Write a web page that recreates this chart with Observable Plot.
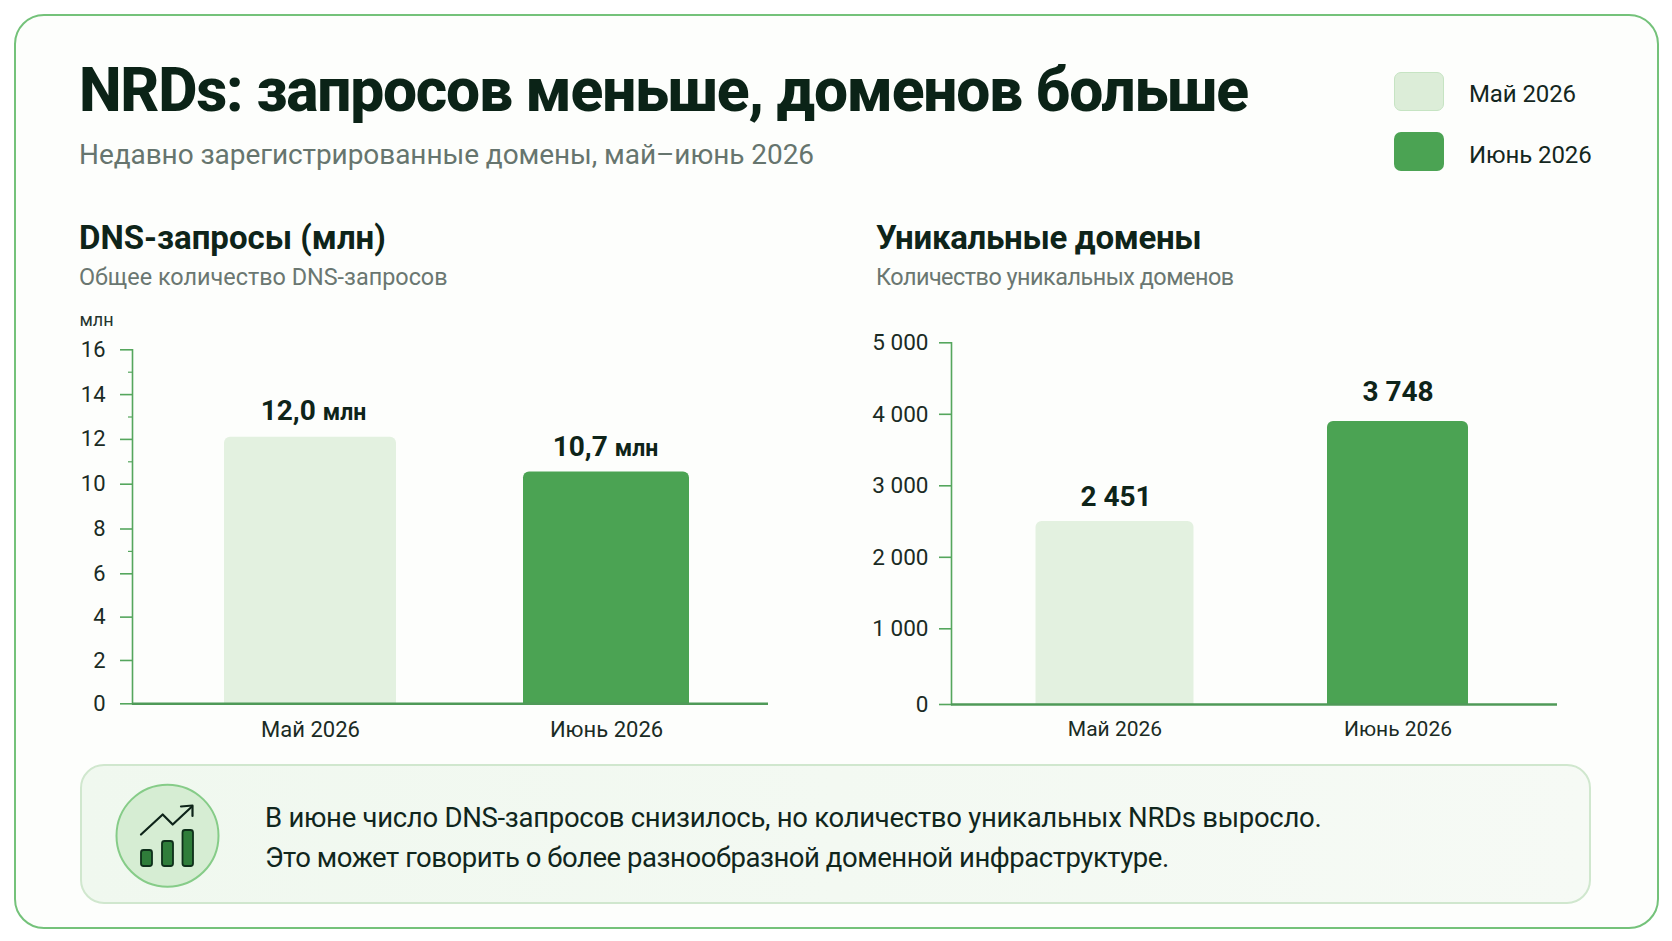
<!DOCTYPE html>
<html lang="ru">
<head>
<meta charset="utf-8">
<script src="https://cdn.jsdelivr.net/npm/d3@7"></script>
<script src="https://cdn.jsdelivr.net/npm/@observablehq/plot@0.6"></script>
<style>
  html, body { margin: 0; padding: 0; background: #fff; }
  body { width: 1672px; height: 941px; position: relative; overflow: hidden; font-family: Roboto, sans-serif; color: #0e2419; }
  .abs { position: absolute; white-space: nowrap; line-height: 1; }
  #card { position: absolute; left: 14px; top: 14px; width: 1645px; height: 915px; box-sizing: border-box; border: 2px solid #74c27a; border-radius: 30px; background: #fdfefc; }
  #title { left: 79px; top: 61px; font-size: 60.5px; font-weight: 800; letter-spacing: -1.23px; color: #0b2317; }
  #subtitle { left: 79px; top: 141px; font-size: 28px; letter-spacing: -0.07px; color: #66756e; }
  .h2 { top: 220.5px; font-size: 33px; font-weight: 700; color: #0e2419; }
  .h3 { top: 266px; font-size: 23.4px; color: #6a7771; }
  #unit { left: 79.5px; top: 311px; font-size: 18px; color: #26352e; }
  .swatch { position: absolute; left: 1394px; width: 50px; height: 39px; box-sizing: border-box; border-radius: 7px; }
  .leg { left: 1469px; font-size: 24px; letter-spacing: -0.1px; color: #14271e; }
  #callout { position: absolute; left: 80px; top: 764px; width: 1511px; height: 140px; box-sizing: border-box; border: 2px solid #d0e7ce; border-radius: 24px; background: linear-gradient(90deg,#f0f8ef,#f6faf5); }
  .note { left: 265px; font-size: 27.5px; color: #10261c; }
  #icon { position: absolute; left: 110px; top: 778px; }
  .plot { position: absolute; }
  .plot svg { display: block; overflow: visible; }
</style>
</head>
<body>
<div id="card"></div>
<div class="abs" id="title">NRDs: запросов меньше, доменов больше</div>
<div class="abs" id="subtitle">Недавно зарегистрированные домены, май–июнь 2026</div>

<div class="swatch" style="top:72px;background:#dcedd8;border:1.5px solid #c6e4c3"></div>
<div class="abs leg" style="top:82px">Май 2026</div>
<div class="swatch" style="top:132px;background:#4ba353"></div>
<div class="abs leg" style="top:143px">Июнь 2026</div>

<div class="abs h2" style="left:79px">DNS-запросы (млн)</div>
<div class="abs h3" style="left:79px">Общее количество DNS-запросов</div>
<div class="abs" id="unit">млн</div>
<div class="abs h2" style="left:876px;letter-spacing:-0.3px">Уникальные домены</div>
<div class="abs h3" style="left:876px;letter-spacing:-0.5px">Количество уникальных доменов</div>

<div class="plot" id="left" style="left:60px;top:335px"></div>
<div class="plot" id="right" style="left:880px;top:330px"></div>

<div id="callout"></div>
<svg id="icon" width="116" height="116" viewBox="110 778 116 116">
  <circle cx="167.5" cy="835.7" r="51" fill="#d6edd3" stroke="#86cc88" stroke-width="2"/>
  <g fill="#2f7d3a" stroke="#0e2f1a" stroke-width="1.8">
    <rect x="141" y="850" width="11" height="16" rx="2.5"/>
    <rect x="162" y="841" width="11" height="25" rx="2.5"/>
    <rect x="182.5" y="830" width="10.5" height="36" rx="2.5"/>
  </g>
  <g fill="none" stroke="#0e2419" stroke-width="2.2" stroke-linecap="round" stroke-linejoin="round">
    <path d="M141 834.5 L162.7 814.5 L172.7 824.5 L192 806.5"/>
    <path d="M181 806.5 L192.5 805.5 L192.5 816"/>
  </g>
</svg>
<div class="abs note" style="top:804px;letter-spacing:-0.29px">В июне число DNS-запросов снизилось, но количество уникальных NRDs выросло.</div>
<div class="abs note" style="top:844px;letter-spacing:-0.46px">Это может говорить о более разнообразной доменной инфраструктуре.</div>

<script>
// Categories
const months = ["Май 2026", "Июнь 2026"];
const monthColors = ["#e3f1e0", "#4ba353"];

const dnsBars = [12.1, 10.55];
const dnsLabels = ["12,0 млн", "10,7 млн"];
const dnsTicks = [0, 2, 4, 6, 8, 10, 12, 14, 16];
const dnsMinorTicks = [7, 11, 13, 15];

const domainBars = [2500, 3900];
const domainLabels = ["2 451", "3 748"];
const domainTicks = [0, 1000, 2000, 3000, 4000, 5000];

const axisGreen = "#55a65d";
const inkText = "#1a2b24";
const spaced = d3.formatLocale({decimal: ",", thousands: " ", grouping: [3], currency: ["", ""]}).format(",");

function panel({bars, labels, ticks, minor, domainY, rangeY, width, height, margin, xRange, insets, labelDx, labelDy, tickFormat, tickPadding, tickFont, xFont, xPadding}) {
  const rows = months.map((m, i) => ({month: m, value: bars[i], label: labels[i], color: monthColors[i]}));
  const marks = [];
  rows.forEach((r, i) => {
    marks.push(Plot.barY([r], {x: "month", y: "value", fill: "color", insetLeft: insets[i], insetRight: insets[i], ry1: 6}));
    marks.push(Plot.text([r], {x: "month", y: "value", text: "label", dx: labelDx[i], dy: labelDy[i], lineAnchor: "bottom",
      fontSize: 28, fontWeight: 700, fill: "#0e2419", className: "value-label"}));
  });
  marks.push(Plot.frame({anchor: "left", stroke: axisGreen, strokeWidth: 1.6}));
  marks.push(Plot.ruleY([0], {stroke: "#4f9a58", strokeWidth: 2.4}));
  marks.push(Plot.axisY({ticks, tickSize: 12, tickPadding, tickFormat, label: null, stroke: axisGreen, strokeWidth: 1.6, fill: inkText, fontSize: tickFont}));
  if (minor) marks.push(Plot.axisY({ticks: minor, tickSize: 4, tickFormat: () => "", label: null, stroke: axisGreen, strokeWidth: 1.2}));
  marks.push(Plot.axisX({tickSize: 0, tickPadding: xPadding, label: null, fill: inkText, fontSize: xFont}));
  return Plot.plot({
    width, height, ...margin,
    style: {fontFamily: "Roboto, sans-serif", background: "transparent", overflow: "visible"},
    x: {type: "band", domain: months, range: xRange, padding: 0},
    y: {type: "linear", domain: domainY, range: rangeY},
    color: {type: "identity"},
    marks
  });
}

function unitTspans(svg) {
  d3.select(svg).selectAll(".value-label text").each(function () {
    const t = d3.select(this), full = t.text(), m = full.match(/^(.*) (млн)$/);
    if (!m) return;
    t.text(null);
    t.append("tspan").text(m[1] + " ");
    t.append("tspan").attr("font-size", 23).text(m[2]);
  });
}

const left = panel({
  bars: dnsBars, labels: dnsLabels, ticks: dnsTicks, minor: dnsMinorTicks,
  domainY: [0, 6, 16], rangeY: [368.3, 238.3, 14.3],
  width: 720, height: 420,
  margin: {marginLeft: 72, marginRight: 12, marginTop: 14.3, marginBottom: 51.7},
  xRange: [102, 694], insets: [62, 65], labelDx: [3, -1], labelDy: [-17, -16],
  tickPadding: 15, tickFont: 22, xFont: 22, xPadding: 18
});
unitTspans(left);
document.getElementById("left").appendChild(left);

const right = panel({
  bars: domainBars, labels: domainLabels, ticks: domainTicks,
  domainY: [0, 1000, 5000], rangeY: [374, 298.3, 12.3],
  width: 690, height: 430,
  margin: {marginLeft: 71, marginRight: 13, marginTop: 12.3, marginBottom: 56},
  xRange: [93, 659], insets: [62.5, 71], labelDx: [1, 0], labelDy: [-16, -20],
  tickFormat: spaced, tickPadding: 11, tickFont: 22.5, xFont: 21, xPadding: 17
});
document.getElementById("right").appendChild(right);
</script>
</body>
</html>
